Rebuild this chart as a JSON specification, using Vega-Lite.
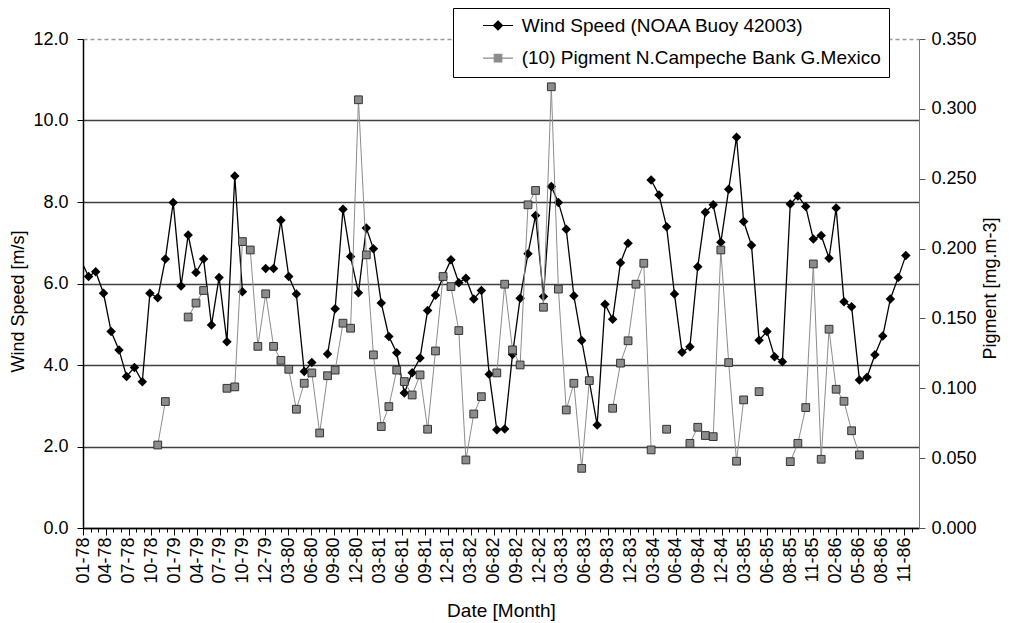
{
  "$schema": "https://vega.github.io/schema/vega-lite/v6.json",
  "width": 836,
  "height": 489,
  "autosize": {"type": "none"},
  "padding": {"left": 83, "top": 39, "right": 91, "bottom": 95},
  "background": "white",
  "config": {
    "font": "Liberation Sans",
    "view": {"stroke": null},
    "axis": {"labelFont": "Liberation Sans", "titleFont": "Liberation Sans", "labelFontSize": 18, "titleFontSize": 18, "titleFontWeight": "normal", "labelColor": "#000", "titleColor": "#000", "tickColor": "#000", "domainColor": "#000"},
    "legend": {"labelFont": "Liberation Sans"}
  },
  "data": {"values": [
    {"date": "1978-01-01", "wind": 6.58, "pigment": null},
    {"date": "1978-02-01", "wind": 6.17, "pigment": null},
    {"date": "1978-03-01", "wind": 6.29, "pigment": null},
    {"date": "1978-04-01", "wind": 5.76, "pigment": null},
    {"date": "1978-05-01", "wind": 4.82, "pigment": null},
    {"date": "1978-06-01", "wind": 4.37, "pigment": null},
    {"date": "1978-07-01", "wind": 3.72, "pigment": null},
    {"date": "1978-08-01", "wind": 3.94, "pigment": null},
    {"date": "1978-09-01", "wind": 3.59, "pigment": null},
    {"date": "1978-10-01", "wind": 5.76, "pigment": null},
    {"date": "1978-11-01", "wind": 5.65, "pigment": 0.0594},
    {"date": "1978-12-01", "wind": 6.60, "pigment": 0.0905},
    {"date": "1979-01-01", "wind": 7.99, "pigment": null},
    {"date": "1979-02-01", "wind": 5.94, "pigment": null},
    {"date": "1979-03-01", "wind": 7.19, "pigment": 0.151},
    {"date": "1979-04-01", "wind": 6.27, "pigment": 0.161},
    {"date": "1979-05-01", "wind": 6.60, "pigment": 0.170},
    {"date": "1979-06-01", "wind": 4.98, "pigment": null},
    {"date": "1979-07-01", "wind": 6.15, "pigment": null},
    {"date": "1979-08-01", "wind": 4.57, "pigment": 0.100},
    {"date": "1979-09-01", "wind": 8.64, "pigment": 0.101},
    {"date": "1979-10-01", "wind": 5.80, "pigment": 0.205},
    {"date": "1979-11-01", "wind": null, "pigment": 0.199},
    {"date": "1979-12-01", "wind": null, "pigment": 0.130},
    {"date": "1980-01-01", "wind": 6.37, "pigment": 0.1676},
    {"date": "1980-02-01", "wind": 6.37, "pigment": 0.130},
    {"date": "1980-03-01", "wind": 7.55, "pigment": 0.120},
    {"date": "1980-04-01", "wind": 6.17, "pigment": 0.1136},
    {"date": "1980-05-01", "wind": 5.74, "pigment": 0.085},
    {"date": "1980-06-01", "wind": 3.84, "pigment": 0.1036},
    {"date": "1980-07-01", "wind": 4.06, "pigment": 0.111},
    {"date": "1980-08-01", "wind": null, "pigment": 0.068},
    {"date": "1980-09-01", "wind": 4.27, "pigment": 0.109},
    {"date": "1980-10-01", "wind": 5.38, "pigment": 0.113},
    {"date": "1980-11-01", "wind": 7.82, "pigment": 0.1466},
    {"date": "1980-12-01", "wind": 6.66, "pigment": 0.143},
    {"date": "1981-01-01", "wind": 5.77, "pigment": 0.3065},
    {"date": "1981-02-01", "wind": 7.36, "pigment": 0.1955},
    {"date": "1981-03-01", "wind": 6.85, "pigment": 0.1239},
    {"date": "1981-04-01", "wind": 5.52, "pigment": 0.0726},
    {"date": "1981-05-01", "wind": 4.70, "pigment": 0.0869},
    {"date": "1981-06-01", "wind": 4.30, "pigment": 0.113},
    {"date": "1981-07-01", "wind": 3.31, "pigment": 0.1048},
    {"date": "1981-08-01", "wind": 3.81, "pigment": 0.0952},
    {"date": "1981-09-01", "wind": 4.17, "pigment": 0.1096},
    {"date": "1981-10-01", "wind": 5.34, "pigment": 0.0707},
    {"date": "1981-11-01", "wind": 5.71, "pigment": 0.1267},
    {"date": "1981-12-01", "wind": 6.16, "pigment": 0.180},
    {"date": "1982-01-01", "wind": 6.58, "pigment": 0.1728},
    {"date": "1982-02-01", "wind": 6.02, "pigment": 0.1413},
    {"date": "1982-03-01", "wind": 6.13, "pigment": 0.0487},
    {"date": "1982-04-01", "wind": 5.62, "pigment": 0.0816},
    {"date": "1982-05-01", "wind": 5.83, "pigment": 0.094},
    {"date": "1982-06-01", "wind": 3.77, "pigment": null},
    {"date": "1982-07-01", "wind": 2.41, "pigment": 0.111},
    {"date": "1982-08-01", "wind": 2.43, "pigment": 0.1745},
    {"date": "1982-09-01", "wind": 4.26, "pigment": 0.1275},
    {"date": "1982-10-01", "wind": 5.64, "pigment": 0.1167},
    {"date": "1982-11-01", "wind": 6.73, "pigment": 0.2313},
    {"date": "1982-12-01", "wind": 7.67, "pigment": 0.2416},
    {"date": "1983-01-01", "wind": 5.68, "pigment": 0.158},
    {"date": "1983-02-01", "wind": 8.38, "pigment": 0.3158},
    {"date": "1983-03-01", "wind": 7.99, "pigment": 0.171},
    {"date": "1983-04-01", "wind": 7.33, "pigment": 0.0845},
    {"date": "1983-05-01", "wind": 5.70, "pigment": 0.1036},
    {"date": "1983-06-01", "wind": 4.60, "pigment": 0.0427},
    {"date": "1983-07-01", "wind": 3.60, "pigment": 0.1055},
    {"date": "1983-08-01", "wind": 2.53, "pigment": null},
    {"date": "1983-09-01", "wind": 5.49, "pigment": null},
    {"date": "1983-10-01", "wind": 5.12, "pigment": 0.0857},
    {"date": "1983-11-01", "wind": 6.51, "pigment": 0.118},
    {"date": "1983-12-01", "wind": 6.99, "pigment": 0.134},
    {"date": "1984-01-01", "wind": null, "pigment": 0.1745},
    {"date": "1984-02-01", "wind": null, "pigment": 0.1895},
    {"date": "1984-03-01", "wind": 8.54, "pigment": 0.0559},
    {"date": "1984-04-01", "wind": 8.17, "pigment": null},
    {"date": "1984-05-01", "wind": 7.39, "pigment": 0.0707},
    {"date": "1984-06-01", "wind": 5.74, "pigment": null},
    {"date": "1984-07-01", "wind": 4.31, "pigment": null},
    {"date": "1984-08-01", "wind": 4.45, "pigment": 0.0606},
    {"date": "1984-09-01", "wind": 6.41, "pigment": 0.0721},
    {"date": "1984-10-01", "wind": 7.75, "pigment": 0.0662},
    {"date": "1984-11-01", "wind": 7.93, "pigment": 0.0654},
    {"date": "1984-12-01", "wind": 7.01, "pigment": 0.199},
    {"date": "1985-01-01", "wind": 8.31, "pigment": 0.1184},
    {"date": "1985-02-01", "wind": 9.59, "pigment": 0.0478},
    {"date": "1985-03-01", "wind": 7.52, "pigment": 0.0917},
    {"date": "1985-04-01", "wind": 6.94, "pigment": null},
    {"date": "1985-05-01", "wind": 4.61, "pigment": 0.0976},
    {"date": "1985-06-01", "wind": 4.82, "pigment": null},
    {"date": "1985-07-01", "wind": 4.20, "pigment": null},
    {"date": "1985-08-01", "wind": 4.08, "pigment": null},
    {"date": "1985-09-01", "wind": 7.95, "pigment": 0.0475},
    {"date": "1985-10-01", "wind": 8.15, "pigment": 0.0606},
    {"date": "1985-11-01", "wind": 7.89, "pigment": 0.0862},
    {"date": "1985-12-01", "wind": 7.09, "pigment": 0.189},
    {"date": "1986-01-01", "wind": 7.18, "pigment": 0.0492},
    {"date": "1986-02-01", "wind": 6.62, "pigment": 0.1423},
    {"date": "1986-03-01", "wind": 7.85, "pigment": 0.0993},
    {"date": "1986-04-01", "wind": 5.55, "pigment": 0.0907},
    {"date": "1986-05-01", "wind": 5.43, "pigment": 0.0696},
    {"date": "1986-06-01", "wind": 3.63, "pigment": 0.0523},
    {"date": "1986-07-01", "wind": 3.70, "pigment": null},
    {"date": "1986-08-01", "wind": 4.25, "pigment": null},
    {"date": "1986-09-01", "wind": 4.71, "pigment": null},
    {"date": "1986-10-01", "wind": 5.62, "pigment": null},
    {"date": "1986-11-01", "wind": 6.15, "pigment": null},
    {"date": "1986-12-01", "wind": 6.69, "pigment": null}
  ]},
  "layer": [
    {
      "encoding": {
        "x": {
          "field": "date", "type": "temporal",
          "scale": {"type": "utc", "domain": [{"year": 1978, "month": 1, "date": 10, "utc": true}, {"year": 1987, "month": 1, "date": 22, "utc": true}]},
          "axis": {
            "orient": "bottom", "title": "Date [Month]", "titleFontSize": 19, "titleX": 418, "titleY": 82, "titleBaseline": "middle", "titleAlign": "center",
            "values": [
              {"year": 1978, "month": 1, "date": 10, "utc": true}, {"year": 1978, "month": 1, "date": 100, "utc": true}, {"year": 1978, "month": 1, "date": 190, "utc": true}, {"year": 1978, "month": 1, "date": 280, "utc": true},
              {"year": 1978, "month": 1, "date": 370, "utc": true}, {"year": 1978, "month": 1, "date": 460, "utc": true}, {"year": 1978, "month": 1, "date": 550, "utc": true}, {"year": 1978, "month": 1, "date": 640, "utc": true},
              {"year": 1978, "month": 1, "date": 730, "utc": true}, {"year": 1978, "month": 1, "date": 820, "utc": true}, {"year": 1978, "month": 1, "date": 910, "utc": true}, {"year": 1978, "month": 1, "date": 1000, "utc": true},
              {"year": 1978, "month": 1, "date": 1090, "utc": true}, {"year": 1978, "month": 1, "date": 1180, "utc": true}, {"year": 1978, "month": 1, "date": 1270, "utc": true}, {"year": 1978, "month": 1, "date": 1360, "utc": true},
              {"year": 1978, "month": 1, "date": 1450, "utc": true}, {"year": 1978, "month": 1, "date": 1540, "utc": true}, {"year": 1978, "month": 1, "date": 1630, "utc": true}, {"year": 1978, "month": 1, "date": 1720, "utc": true},
              {"year": 1978, "month": 1, "date": 1810, "utc": true}, {"year": 1978, "month": 1, "date": 1900, "utc": true}, {"year": 1978, "month": 1, "date": 1990, "utc": true}, {"year": 1978, "month": 1, "date": 2080, "utc": true},
              {"year": 1978, "month": 1, "date": 2170, "utc": true}, {"year": 1978, "month": 1, "date": 2260, "utc": true}, {"year": 1978, "month": 1, "date": 2350, "utc": true}, {"year": 1978, "month": 1, "date": 2440, "utc": true},
              {"year": 1978, "month": 1, "date": 2530, "utc": true}, {"year": 1978, "month": 1, "date": 2620, "utc": true}, {"year": 1978, "month": 1, "date": 2710, "utc": true}, {"year": 1978, "month": 1, "date": 2800, "utc": true},
              {"year": 1978, "month": 1, "date": 2890, "utc": true}, {"year": 1978, "month": 1, "date": 2980, "utc": true}, {"year": 1978, "month": 1, "date": 3070, "utc": true}, {"year": 1978, "month": 1, "date": 3160, "utc": true},
              {"year": 1978, "month": 1, "date": 3250, "utc": true}
            ],
            "labelExpr": "utcFormat(datum.value, '%m-%y')",
            "labelAngle": 270, "labelPadding": 2, "labelOverlap": false, "labelFlush": false, "labelBound": false,
            "tickSize": 7, "tickWidth": 1, "domainWidth": 1.5, "grid": false
          }
        },
        "y": {
          "field": "wind", "type": "quantitative",
          "scale": {"domain": [0, 12], "nice": false, "zero": true},
          "axis": {
            "orient": "left", "title": "Wind Speed [m/s]", "values": [0, 2, 4, 6, 8, 10, 12], "format": ".1f",
            "titleAngle": 270, "titleX": -65, "titleY": 262, "titleBaseline": "middle", "titleAlign": "center",
            "tickSize": 6, "labelPadding": 9, "domainWidth": 1.5,
            "grid": true, "gridWidth": 1.3,
            "gridColor": {"condition": {"test": "datum.value === 12", "value": "#9a9a9a"}, "value": "#404040"},
            "gridDash": {"condition": {"test": "datum.value === 12", "value": [4, 3]}, "value": []}
          }
        }
      },
      "layer": [
        {
          "mark": {"type": "line", "strokeWidth": 1.3, "clip": true},
          "encoding": {
            "color": {
              "datum": "Wind Speed (NOAA Buoy 42003)",
              "scale": {"domain": ["Wind Speed (NOAA Buoy 42003)", "(10) Pigment N.Campeche Bank G.Mexico"], "range": ["#000000", "#8c8c8c"]},
              "legend": {
                "orient": "none", "legendX": 370, "legendY": -31, "title": null, "padding": 8,
                "strokeColor": "#000", "fillColor": "#fff", "labelFontSize": 19, "labelColor": "#000", "labelLimit": 600,
                "symbolSize": 225, "symbolStrokeWidth": 1.2, "symbolOffset": 27.5, "labelOffset": 14.2, "rowPadding": 12.7,
                "encoding": {"symbols": {
                  "shape": {"value": {"expr": "datum.value === 'Wind Speed (NOAA Buoy 42003)' ? 'M-2,0H2M0,-0.6L0.6,0L0,0.6L-0.6,0Z' : 'M-2,0H2M-0.5,-0.5H0.5V0.5H-0.5Z'"}},
                  "fill": {"value": {"expr": "datum.value === 'Wind Speed (NOAA Buoy 42003)' ? '#000000' : '#8c8c8c'"}},
                  "stroke": {"value": {"expr": "datum.value === 'Wind Speed (NOAA Buoy 42003)' ? '#000000' : '#555555'"}},
                  "strokeWidth": {"value": 1.2},
                  "size": {"value": 225},
                  "opacity": {"value": 1}
                }}
              }
            }
          }
        },
        {
          "transform": [{"filter": "datum.wind != null && time(datum.date) > utc(1978, 0, 5)"}],
          "mark": {"type": "point", "shape": "diamond", "filled": true, "size": 90, "opacity": 1, "clip": true},
          "encoding": {"color": {"datum": "Wind Speed (NOAA Buoy 42003)"}}
        }
      ]
    },
    {
      "encoding": {
        "x": {
          "field": "date", "type": "temporal",
          "scale": {"type": "utc", "domain": [{"year": 1978, "month": 1, "date": 10, "utc": true}, {"year": 1987, "month": 1, "date": 22, "utc": true}]},
          "axis": {
            "orient": "bottom", "title": null, "labels": false, "domain": false, "grid": false, "tickSize": 4, "tickWidth": 1,
            "values": [
              {"year": 1978, "month": 1, "date": 10, "utc": true}, {"year": 1978, "month": 1, "date": 40, "utc": true}, {"year": 1978, "month": 1, "date": 70, "utc": true}, {"year": 1978, "month": 1, "date": 100, "utc": true},
              {"year": 1978, "month": 1, "date": 130, "utc": true}, {"year": 1978, "month": 1, "date": 160, "utc": true}, {"year": 1978, "month": 1, "date": 190, "utc": true}, {"year": 1978, "month": 1, "date": 220, "utc": true},
              {"year": 1978, "month": 1, "date": 250, "utc": true}, {"year": 1978, "month": 1, "date": 280, "utc": true}, {"year": 1978, "month": 1, "date": 310, "utc": true}, {"year": 1978, "month": 1, "date": 340, "utc": true},
              {"year": 1978, "month": 1, "date": 370, "utc": true}, {"year": 1978, "month": 1, "date": 400, "utc": true}, {"year": 1978, "month": 1, "date": 430, "utc": true}, {"year": 1978, "month": 1, "date": 460, "utc": true},
              {"year": 1978, "month": 1, "date": 490, "utc": true}, {"year": 1978, "month": 1, "date": 520, "utc": true}, {"year": 1978, "month": 1, "date": 550, "utc": true}, {"year": 1978, "month": 1, "date": 580, "utc": true},
              {"year": 1978, "month": 1, "date": 610, "utc": true}, {"year": 1978, "month": 1, "date": 640, "utc": true}, {"year": 1978, "month": 1, "date": 670, "utc": true}, {"year": 1978, "month": 1, "date": 700, "utc": true},
              {"year": 1978, "month": 1, "date": 730, "utc": true}, {"year": 1978, "month": 1, "date": 760, "utc": true}, {"year": 1978, "month": 1, "date": 790, "utc": true}, {"year": 1978, "month": 1, "date": 820, "utc": true},
              {"year": 1978, "month": 1, "date": 850, "utc": true}, {"year": 1978, "month": 1, "date": 880, "utc": true}, {"year": 1978, "month": 1, "date": 910, "utc": true}, {"year": 1978, "month": 1, "date": 940, "utc": true},
              {"year": 1978, "month": 1, "date": 970, "utc": true}, {"year": 1978, "month": 1, "date": 1000, "utc": true}, {"year": 1978, "month": 1, "date": 1030, "utc": true}, {"year": 1978, "month": 1, "date": 1060, "utc": true},
              {"year": 1978, "month": 1, "date": 1090, "utc": true}, {"year": 1978, "month": 1, "date": 1120, "utc": true}, {"year": 1978, "month": 1, "date": 1150, "utc": true}, {"year": 1978, "month": 1, "date": 1180, "utc": true},
              {"year": 1978, "month": 1, "date": 1210, "utc": true}, {"year": 1978, "month": 1, "date": 1240, "utc": true}, {"year": 1978, "month": 1, "date": 1270, "utc": true}, {"year": 1978, "month": 1, "date": 1300, "utc": true},
              {"year": 1978, "month": 1, "date": 1330, "utc": true}, {"year": 1978, "month": 1, "date": 1360, "utc": true}, {"year": 1978, "month": 1, "date": 1390, "utc": true}, {"year": 1978, "month": 1, "date": 1420, "utc": true},
              {"year": 1978, "month": 1, "date": 1450, "utc": true}, {"year": 1978, "month": 1, "date": 1480, "utc": true}, {"year": 1978, "month": 1, "date": 1510, "utc": true}, {"year": 1978, "month": 1, "date": 1540, "utc": true},
              {"year": 1978, "month": 1, "date": 1570, "utc": true}, {"year": 1978, "month": 1, "date": 1600, "utc": true}, {"year": 1978, "month": 1, "date": 1630, "utc": true}, {"year": 1978, "month": 1, "date": 1660, "utc": true},
              {"year": 1978, "month": 1, "date": 1690, "utc": true}, {"year": 1978, "month": 1, "date": 1720, "utc": true}, {"year": 1978, "month": 1, "date": 1750, "utc": true}, {"year": 1978, "month": 1, "date": 1780, "utc": true},
              {"year": 1978, "month": 1, "date": 1810, "utc": true}, {"year": 1978, "month": 1, "date": 1840, "utc": true}, {"year": 1978, "month": 1, "date": 1870, "utc": true}, {"year": 1978, "month": 1, "date": 1900, "utc": true},
              {"year": 1978, "month": 1, "date": 1930, "utc": true}, {"year": 1978, "month": 1, "date": 1960, "utc": true}, {"year": 1978, "month": 1, "date": 1990, "utc": true}, {"year": 1978, "month": 1, "date": 2020, "utc": true},
              {"year": 1978, "month": 1, "date": 2050, "utc": true}, {"year": 1978, "month": 1, "date": 2080, "utc": true}, {"year": 1978, "month": 1, "date": 2110, "utc": true}, {"year": 1978, "month": 1, "date": 2140, "utc": true},
              {"year": 1978, "month": 1, "date": 2170, "utc": true}, {"year": 1978, "month": 1, "date": 2200, "utc": true}, {"year": 1978, "month": 1, "date": 2230, "utc": true}, {"year": 1978, "month": 1, "date": 2260, "utc": true},
              {"year": 1978, "month": 1, "date": 2290, "utc": true}, {"year": 1978, "month": 1, "date": 2320, "utc": true}, {"year": 1978, "month": 1, "date": 2350, "utc": true}, {"year": 1978, "month": 1, "date": 2380, "utc": true},
              {"year": 1978, "month": 1, "date": 2410, "utc": true}, {"year": 1978, "month": 1, "date": 2440, "utc": true}, {"year": 1978, "month": 1, "date": 2470, "utc": true}, {"year": 1978, "month": 1, "date": 2500, "utc": true},
              {"year": 1978, "month": 1, "date": 2530, "utc": true}, {"year": 1978, "month": 1, "date": 2560, "utc": true}, {"year": 1978, "month": 1, "date": 2590, "utc": true}, {"year": 1978, "month": 1, "date": 2620, "utc": true},
              {"year": 1978, "month": 1, "date": 2650, "utc": true}, {"year": 1978, "month": 1, "date": 2680, "utc": true}, {"year": 1978, "month": 1, "date": 2710, "utc": true}, {"year": 1978, "month": 1, "date": 2740, "utc": true},
              {"year": 1978, "month": 1, "date": 2770, "utc": true}, {"year": 1978, "month": 1, "date": 2800, "utc": true}, {"year": 1978, "month": 1, "date": 2830, "utc": true}, {"year": 1978, "month": 1, "date": 2860, "utc": true},
              {"year": 1978, "month": 1, "date": 2890, "utc": true}, {"year": 1978, "month": 1, "date": 2920, "utc": true}, {"year": 1978, "month": 1, "date": 2950, "utc": true}, {"year": 1978, "month": 1, "date": 2980, "utc": true},
              {"year": 1978, "month": 1, "date": 3010, "utc": true}, {"year": 1978, "month": 1, "date": 3040, "utc": true}, {"year": 1978, "month": 1, "date": 3070, "utc": true}, {"year": 1978, "month": 1, "date": 3100, "utc": true},
              {"year": 1978, "month": 1, "date": 3130, "utc": true}, {"year": 1978, "month": 1, "date": 3160, "utc": true}, {"year": 1978, "month": 1, "date": 3190, "utc": true}, {"year": 1978, "month": 1, "date": 3220, "utc": true},
              {"year": 1978, "month": 1, "date": 3250, "utc": true}, {"year": 1978, "month": 1, "date": 3280, "utc": true}
            ]
          }
        },
        "y": {
          "field": "pigment", "type": "quantitative",
          "scale": {"domain": [0, 0.35], "nice": false, "zero": true},
          "axis": {
            "orient": "right", "title": "Pigment [mg.m-3]", "values": [0, 0.05, 0.1, 0.15, 0.2, 0.25, 0.3, 0.35], "format": ".3f",
            "titleAngle": 270, "titleX": 71, "titleY": 249, "titleBaseline": "middle", "titleAlign": "center",
            "tickSize": 6, "labelPadding": 6, "domainColor": "#7a7a7a", "domainWidth": 1, "tickColor": "#555555", "grid": false
          }
        }
      },
      "layer": [
        {
          "mark": {"type": "line", "strokeWidth": 1, "clip": true},
          "encoding": {"color": {"datum": "(10) Pigment N.Campeche Bank G.Mexico"}}
        },
        {
          "mark": {"type": "point", "shape": "square", "filled": true, "size": 60, "opacity": 1, "stroke": "#333333", "strokeWidth": 1, "clip": true},
          "encoding": {"color": {"datum": "(10) Pigment N.Campeche Bank G.Mexico"}}
        }
      ]
    }
  ],
  "resolve": {"scale": {"y": "independent"}, "axis": {"x": "independent"}}
}
